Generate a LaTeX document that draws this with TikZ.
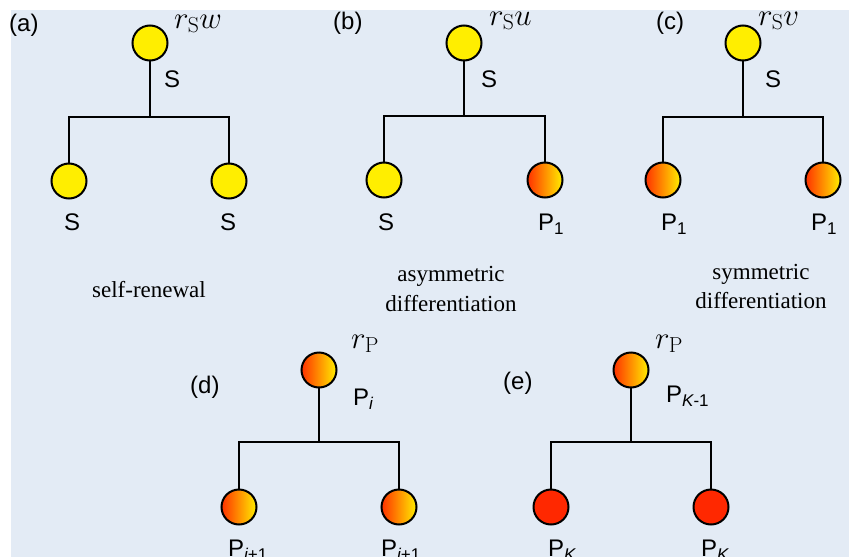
\RequirePackage{fix-cm}
\documentclass[tikz,border=0pt]{standalone}
\usepackage{fontspec}
\newfontfamily\lsans{Liberation Sans}
\newfontfamily\lserif{Liberation Serif}

\definecolor{bg}{RGB}{227,235,245}
\definecolor{stemyellow}{RGB}{255,238,0}
\definecolor{progred}{RGB}{255,40,0}
\definecolor{gradleft}{RGB}{255,50,0}
\definecolor{gradright}{RGB}{255,238,0}

% lowered subscript used in the sans labels
\newcommand\lsub[1]{\raisebox{-4pt}{\fontsize{17}{17}\selectfont #1}}

\tikzset{
  cell/.style={circle, draw=black, line width=2pt, minimum size=35pt, inner sep=0pt},
  stemcell/.style={cell, fill=stemyellow},
  progcell/.style={cell, left color=gradleft, right color=gradright},
  termcell/.style={cell, fill=progred},
  lab/.style={anchor=base west, inner sep=0pt, font=\lsans\fontsize{24}{24}\selectfont},
  rate/.style={anchor=base west, inner sep=0pt, font=\fontsize{31}{31}\selectfont},
  note/.style={anchor=base, inner sep=0pt, font=\lserif\fontsize{23}{23}\selectfont},
  tree/.style={line width=2.3pt, draw=black},
}

\begin{document}
\begin{tikzpicture}[x=1pt,y=-1pt]
\useasboundingbox (0,0) rectangle (849,557);
\fill[bg] (11,10) rectangle (849,557);

% ---------- (a) self-renewal ----------
\coordinate (abar) at (150,117);
\draw[tree] (150,43) -- (abar);
\draw[tree] (69,181) |- (abar) -| (229,181);
\node[stemcell] (a0) at (150,43) {};
\node[stemcell] (a1) at (69,181) {};
\node[stemcell] (a2) at (229,181) {};
\node[lab] (alab) at (9,31) {(a)};
\node[rate] (arate) at (174,28) {$r_{\mathrm S}w$};
\node[lab] (as0) at (164,87) {S};
\node[lab] (as1) at (64,230) {S};
\node[lab] (as2) at (220,230) {S};
\node[note] (anote) at (149,297) {self-renewal};

% ---------- (b) asymmetric differentiation ----------
\coordinate (bbar) at (464,116);
\draw[tree] (464,43) -- (bbar);
\draw[tree] (384,180) |- (bbar) -| (545,180);
\node[stemcell] (b0) at (464,43) {};
\node[stemcell] (b1) at (384,180) {};
\node[progcell] (b2) at (545,180) {};
\node[lab] (blab) at (333,29) {(b)};
\node[rate] (brate) at (489,25) {$r_{\mathrm S}u$};
\node[lab] (bs0) at (481,87) {S};
\node[lab] (bs1) at (378,230) {S};
\node[lab] (bs2) at (538,230) {P\lsub{1}};
\node[note] (bnote1) at (451,281) {asymmetric};
\node[note] (bnote2) at (451,311) {differentiation};

% ---------- (c) symmetric differentiation ----------
\coordinate (cbar) at (743,117);
\draw[tree] (743,43) -- (cbar);
\draw[tree] (663,180) |- (cbar) -| (823,180);
\node[stemcell] (c0) at (743,43) {};
\node[progcell] (c1) at (663,180) {};
\node[progcell] (c2) at (823,180) {};
\node[lab] (clab) at (656,29) {(c)};
\node[rate] (crate) at (758,25) {$r_{\mathrm S}v$};
\node[lab] (cs0) at (765,87) {S};
\node[lab] (cs1) at (661,230) {P\lsub{1}};
\node[lab] (cs2) at (811,230) {P\lsub{1}};
\node[note] (cnote1) at (761,279) {symmetric};
\node[note] (cnote2) at (761,308) {differentiation};

% ---------- (d) progenitor division ----------
\coordinate (dbar) at (319,442);
\draw[tree] (319,370) -- (dbar);
\draw[tree] (239,507) |- (dbar) -| (399,507);
\node[progcell] (d0) at (319,370) {};
\node[progcell] (d1) at (239,507) {};
\node[progcell] (d2) at (399,507) {};
\node[lab] (dlab) at (190,393) {(d)};
\node[rate] (drate) at (351,348) {$r_{\mathrm P}$};
\node[lab] (ds0) at (353,405) {P\lsub{\itshape i}};
\node[lab] (ds1) at (228,556) {P\lsub{{\itshape i}+1}};
\node[lab] (ds2) at (381,556) {P\lsub{{\itshape i}+1}};

% ---------- (e) last progenitor stage ----------
\coordinate (ebar) at (631,442);
\draw[tree] (631,370) -- (ebar);
\draw[tree] (551,507) |- (ebar) -| (711,507);
\node[progcell] (e0) at (631,370) {};
\node[termcell] (e1) at (551,507) {};
\node[termcell] (e2) at (711,507) {};
\node[lab] (elab) at (503,389) {(e)};
\node[rate] (erate) at (655,348) {$r_{\mathrm P}$};
\node[lab] (es0) at (666,402) {P\lsub{{\itshape K}-1}};
\node[lab] (es1) at (548,556) {P\lsub{\itshape K}};
\node[lab] (es2) at (701,556) {P\lsub{\itshape K}};
\end{tikzpicture}
\end{document}
